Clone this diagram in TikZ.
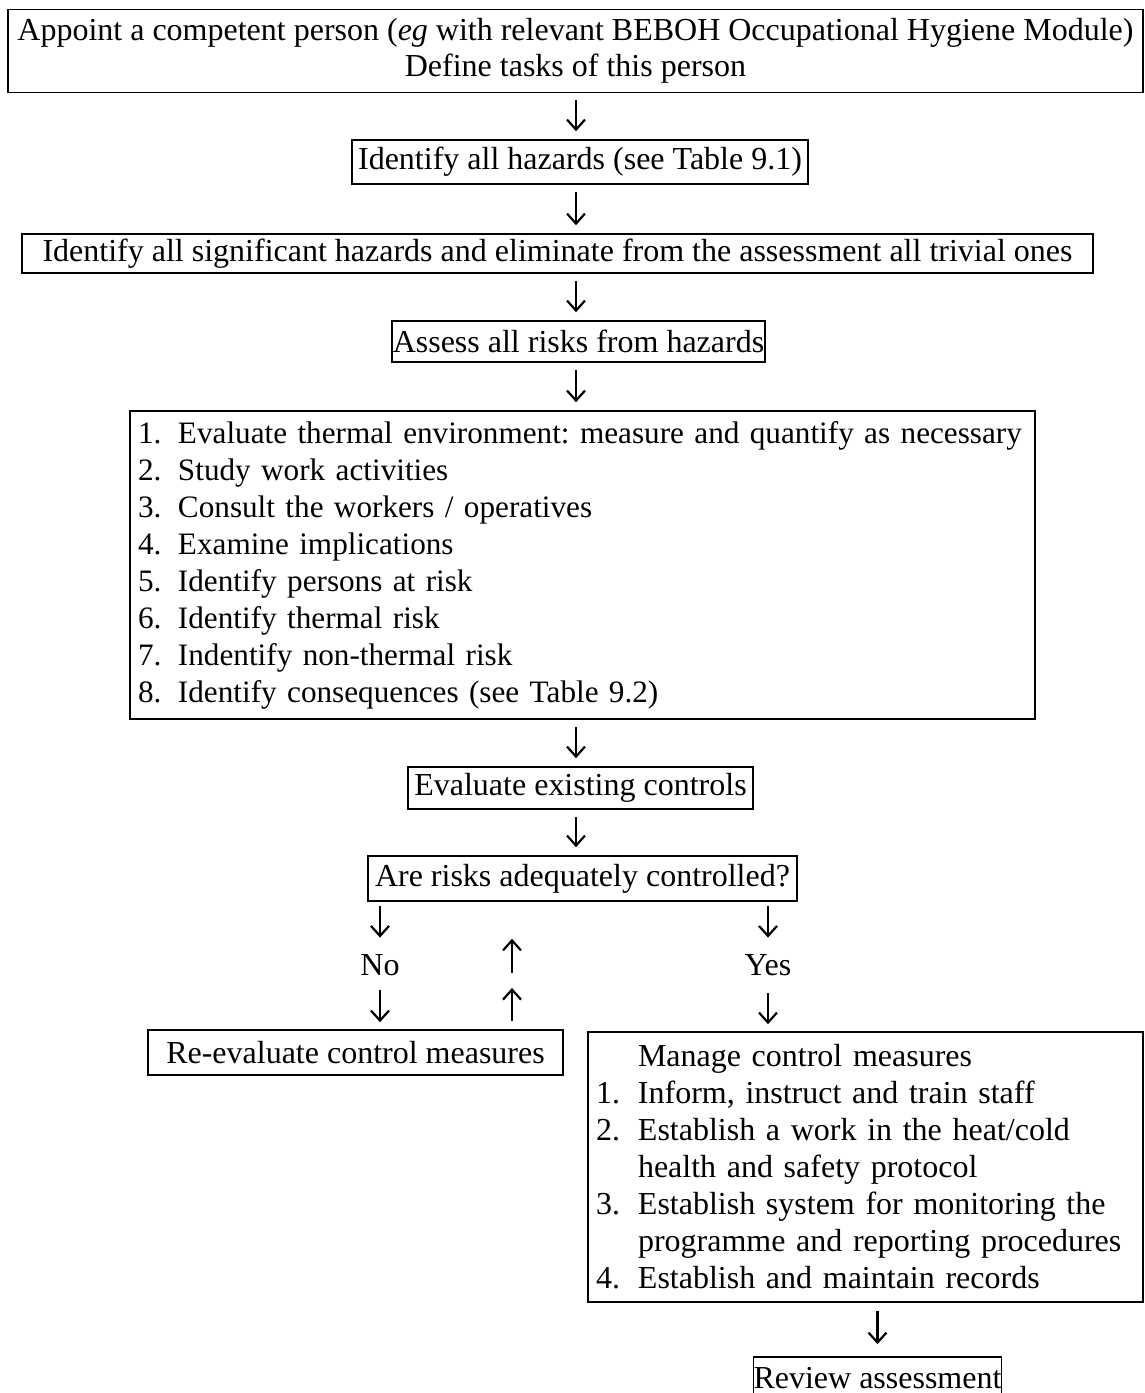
\documentclass[tikz,border=0pt]{standalone}
\usepackage{fontspec}
\setmainfont{Liberation Serif}
\usetikzlibrary{arrows.meta}
\newcommand{\itm}[3][20pt]{\mbox{\makebox[#1][l]{#2}#3}}
\newcommand{\cont}[2][21pt]{\mbox{\hspace*{#1}#2}}
\begin{document}
\begin{tikzpicture}[x=0.5pt,y=-0.5pt,
  every node/.style={font=\fontsize{16}{18.5}\selectfont\frenchspacing},
  box/.style={draw, line width=0.8pt, inner sep=0pt, align=center},
  lbox/.style={draw, line width=0.8pt, inner xsep=4pt, inner ysep=0pt, align=left},
  arr/.style={-{Straight Barb[length=5pt,width=9pt]}, line width=1.1pt},
  gapped/.style={shorten <=3.5pt, shorten >=4pt},
  lbl/.style={inner sep=0pt, minimum height=25pt}]
\useasboundingbox (0,0) rectangle (1145,1393);

% boxes
\node[box, minimum width=567.5pt, minimum height=41.5pt] (appoint) at (575.5,51)
  {Appoint a competent person (\textit{eg} with relevant BEBOH Occupational Hygiene Module)\\[-0.5pt]Define tasks of this person};
\node[box, minimum width=228pt, minimum height=22pt] (hazards) at (580,162)
  {Identify all hazards (see Table 9.1)};
\node[box, minimum width=535.5pt, minimum height=19.5pt] (signif) at (557.5,253.5)
  {Identify all significant hazards and eliminate from the assessment all trivial ones};
\node[box, minimum width=186.5pt, minimum height=20.5pt] (assess) at (578.5,341.5)
  {Assess all risks from hazards};
\node[lbox, text width=444.5pt, minimum height=154pt,
      font=\fontsize{15.6}{18.5}\selectfont\frenchspacing] (steps) at (582.5,565)
  {\itm{1.}{Evaluate thermal environment: measure and quantify as necessary}\\
   \itm{2.}{Study work activities}\\
   \itm{3.}{Consult the workers / operatives}\\
   \itm{4.}{Examine implications}\\
   \itm{5.}{Identify persons at risk}\\
   \itm{6.}{Identify thermal risk}\\
   \itm{7.}{Indentify non-thermal risk}\\
   \itm{8.}{Identify consequences (see Table 9.2)}};
\node[box, minimum width=172.5pt, minimum height=21pt] (existing) at (580.5,788)
  {Evaluate existing controls};
\node[box, minimum width=214.5pt, minimum height=22.5pt] (question) at (582.5,878.5)
  {Are risks adequately controlled?};
\node[box, minimum width=207.5pt, minimum height=22.5pt] (reeval) at (355.5,1052.5)
  {Re-evaluate control measures};
\node[lbox, text width=269.5pt, minimum height=135pt] (manage) at (865.5,1167)
  {\cont{Manage control measures}\\
   \itm[21pt]{1.}{Inform, instruct and train staff}\\
   \itm[21pt]{2.}{Establish a work in the heat/cold}\\
   \cont{health and safety protocol}\\
   \itm[21pt]{3.}{Establish system for monitoring the}\\
   \cont{programme and reporting procedures}\\
   \itm[21pt]{4.}{Establish and maintain records}};
\node[box, minimum width=122.5pt, minimum height=21.5pt] (review) at (877.5,1378.5)
  {Review assessment};

% labels
\node[lbl] (no) at (380,965) {No};
\node[lbl] (yes) at (768,965) {Yes};

% helper coordinates
\coordinate (col) at (576,0);
\coordinate (nox) at (380,0);
\coordinate (yesx) at (768,0);
\coordinate (upgap) at (512,980);

% main column
\draw[arr, gapped] (appoint.south -| col) -- (hazards.north -| col);
\draw[arr, gapped] (hazards.south -| col) -- (signif.north -| col);
\draw[arr, gapped] (signif.south -| col) -- (assess.north -| col);
\draw[arr, gapped] (assess.south -| col) -- (steps.north -| col);
\draw[arr, gapped] (steps.south -| col) -- (existing.north -| col);
\draw[arr, gapped] (existing.south -| col) -- (question.north -| col);

% No branch
\draw[arr, shorten <=2pt, shorten >=1pt] (question.south -| nox) -- (no.north);
\draw[arr, shorten >=3.5pt] (no.south) -- (reeval.north -| nox);
% loop back up
\draw[arr, shorten <=4pt, shorten >=4pt] (reeval.north -| upgap) -- (upgap);
\draw[arr, shorten <=3.5pt, shorten >=18.5pt] (upgap) -- (question.south -| upgap);

% Yes branch
\draw[arr, shorten <=2pt, shorten >=1pt] (question.south -| yesx) -- (yes.north);
\draw[arr, shorten <=1.5pt, shorten >=3.5pt] (yes.south) -- (manage.north -| yesx);

% to review
\draw[arr, shorten <=4pt, shorten >=6pt] (manage.south -| review) -- (review.north);
\end{tikzpicture}
\end{document}
